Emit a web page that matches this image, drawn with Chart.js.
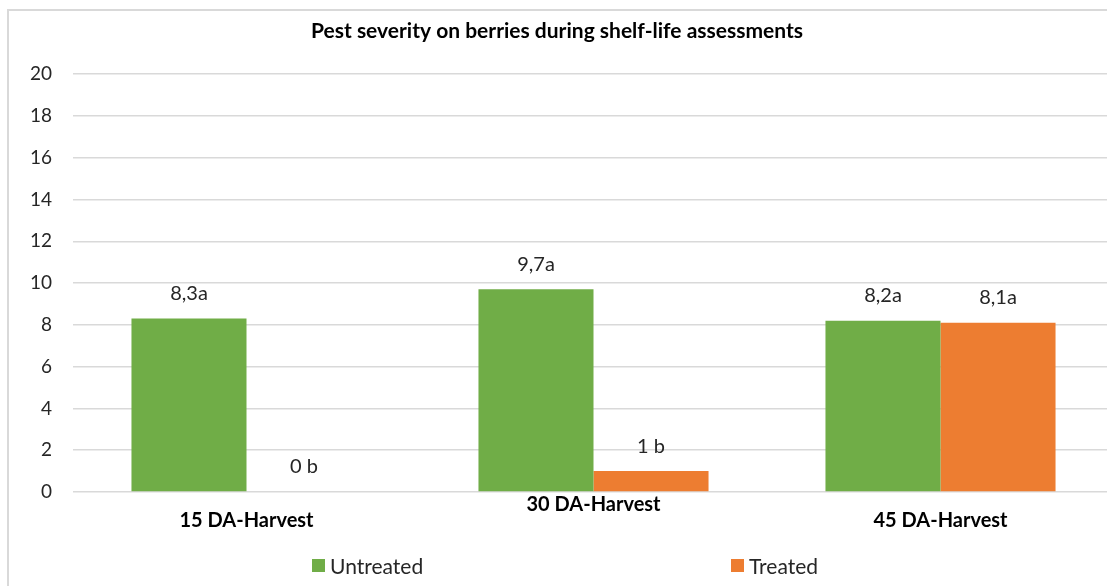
<!DOCTYPE html>
<html lang="en">

<head>
    <meta charset="UTF-8" />
    <title>Pest severity on berries during shelf-life assessments</title>
    <script src="https://cdn.jsdelivr.net/npm/chart.js"></script>
    <style>
        html, body { margin: 0; padding: 0; background: #fff; overflow: hidden; }
        #wrap { position: relative; width: 1115px; height: 586px; }
        #frame { position: absolute; left: 7px; top: 9px; right: 0; bottom: 0;
                 border-left: 2px solid #d9d9d9; border-top: 2px solid #d9d9d9; }
        #legend { position: absolute; top: 553px; left: 0; width: 1107px; height: 24px;
                  font-family: Lato, sans-serif; font-size: 21px; color: #262626; }
        .item { position: absolute; display: flex; align-items: center; height: 24px; }
        .box { width: 13px; height: 13px; margin-right: 5px; }
    </style>
</head>

<body>
    <div id="wrap">
        <div id="frame"></div>
        <canvas id="pestChart" width="1115" height="586"></canvas>
        <div id="legend"></div>
    </div>

    <script>
        const categories = ['15 DA-Harvest', '30 DA-Harvest', '45 DA-Harvest'];
        const untreated = [8.3, 9.7, 8.2];
        const treated = [0, 1, 8.1];
        const untreatedLabels = ['8,3a', '9,7a', '8,2a'];
        const treatedLabels = ['0 b', '1 b', '8,1a'];
        const seriesNames = ['Untreated', 'Treated'];
        const seriesColors = ['#70ad47', '#ed7d31'];

        // the middle label sits one line higher than the others, like the original
        const tickLabels = categories.map((c, i) => (i === 1 ? [c] : ['', c]));

        const barLabels = {
            id: 'barLabels',
            afterDatasetsDraw(chart) {
                const ctx = chart.ctx;
                const texts = [untreatedLabels, treatedLabels];
                ctx.save();
                ctx.font = '20px Lato, sans-serif';
                ctx.fillStyle = '#262626';
                ctx.textAlign = 'center';
                ctx.textBaseline = 'middle';
                chart.data.datasets.forEach((ds, di) => {
                    chart.getDatasetMeta(di).data.forEach((bar, i) => {
                        ctx.fillText(texts[di][i], bar.x, bar.y - 25);
                    });
                });
                ctx.restore();
            }
        };

        const ctx = document.getElementById('pestChart').getContext('2d');
        const chart = new Chart(ctx, {
            type: 'bar',
            data: {
                labels: tickLabels,
                datasets: [
                    {
                        label: seriesNames[0],
                        data: untreated,
                        backgroundColor: seriesColors[0],
                    },
                    {
                        label: seriesNames[1],
                        data: treated,
                        backgroundColor: seriesColors[1],
                    },
                ],
            },
            options: {
                responsive: false,
                animation: false,
                layout: { padding: { left: 0, right: 1, top: 0, bottom: 0 } },
                categoryPercentage: 0.663,
                barPercentage: 1,
                plugins: {
                    legend: { display: false },
                    tooltip: { enabled: false },
                    title: {
                        display: true,
                        text: 'Pest severity on berries during shelf-life assessments',
                        color: '#000',
                        font: { family: 'Lato, sans-serif', size: 21, weight: 'bold' },
                        padding: { top: 19, bottom: 30 },
                    },
                },
                scales: {
                    x: {
                        afterFit(scale) { scale.height = 94; },
                        grid: { display: false },
                        border: { display: false },
                        ticks: {
                            color: '#000',
                            padding: -3,
                            font: { family: 'Lato, sans-serif', size: 20, weight: 'bold', lineHeight: 0.8 },
                        },
                    },
                    y: {
                        min: 0,
                        max: 20,
                        afterFit(scale) { scale.width = 73; },
                        grid: { color: '#d9d9d9', lineWidth: 1.5, drawTicks: false },
                        border: { display: false },
                        ticks: {
                            stepSize: 2,
                            padding: 21,
                            color: '#262626',
                            font: { family: 'Lato, sans-serif', size: 19 },
                        },
                    },
                },
            },
            plugins: [barLabels],
        });

        // legend under the plot, items spread like the original
        const legend = document.getElementById('legend');
        const legendLeft = [312, 731];
        seriesNames.forEach((name, i) => {
            const item = document.createElement('div');
            item.className = 'item';
            item.style.left = legendLeft[i] + 'px';
            item.innerHTML = '<span class="box" style="background:' + seriesColors[i] + '"></span>' + name;
            legend.appendChild(item);
        });
    </script>
</body>

</html>
